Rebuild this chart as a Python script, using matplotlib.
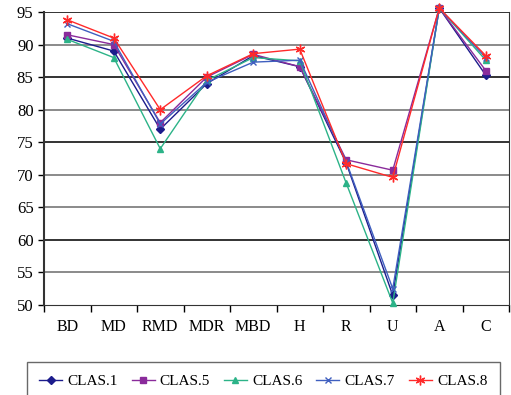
import matplotlib

matplotlib.use("Agg")

import matplotlib.pyplot as plt

plt.rcParams["font.family"] = ["Liberation Serif", "DejaVu Serif"]

categories = ["BD", "MD", "RMD", "MDR", "MBD", "H", "R", "U", "A", "C"]
clas1 = [91.0, 89.0, 77.0, 84.0, 88.3, 86.6, 71.8, 51.5, 95.6, 85.3]
clas5 = [91.5, 90.0, 78.0, 85.0, 88.5, 86.6, 72.3, 70.7, 95.6, 86.0]
clas6 = [90.8, 88.0, 74.0, 84.5, 88.0, 87.5, 68.7, 50.3, 95.6, 87.6]
clas7 = [93.2, 90.5, 77.8, 84.2, 87.3, 87.6, 72.0, 52.5, 95.6, 88.0]
clas8 = [93.8, 91.0, 80.0, 85.2, 88.6, 89.3, 71.7, 69.6, 95.6, 88.3]

series = [
    ("CLAS.1", clas1, "#1c1c8c", "D", 4),
    ("CLAS.5", clas5, "#8a2b9b", "s", 5),
    ("CLAS.6", clas6, "#2cb388", "^", 5),
    ("CLAS.7", clas7, "#3f5fbf", "x", 5),
    ("CLAS.8", clas8, "#ff2a2a", (6, 2, 0), 7),
]

fig = plt.figure(figsize=(5.11, 3.95), dpi=100)
ax = fig.add_axes([44 / 511, 1 - 305 / 395, 465 / 511, 293 / 395])

x = list(range(len(categories)))
for name, vals, color, marker, ms in series:
    ax.plot(x, vals, color=color, marker=marker, markersize=ms, lw=1.0,
            label=name, clip_on=False, zorder=3)

ax.set_ylim(50, 95)
ax.set_xlim(-0.5, len(categories) - 0.5)
ax.set_yticks(range(50, 96, 5))
ax.set_xticks(x)
ax.set_xticklabels(categories)
ax.set_xticks([i + 0.5 for i in range(-1, len(categories))], minor=True)
ax.tick_params(axis="x", which="major", length=0, pad=10, labelsize=11.5)
ax.tick_params(axis="x", which="minor", length=5, direction="out", width=1)
ax.tick_params(axis="y", length=4, direction="out", width=1, labelsize=12)

# lignes de grille alternées noir / gris comme dans l'original
for v in range(55, 96, 5):
    c = "#111111" if v in (95, 85, 75, 60) else "#777777"
    ax.axhline(v, color=c, lw=1.2, zorder=1)

ax.spines["top"].set_visible(False)
ax.spines["left"].set_linewidth(1.5)
ax.spines["left"].set_color("#333333")
ax.spines["bottom"].set_color("#333333")
ax.spines["right"].set_color("#333333")

fig.legend(loc="upper left", bbox_to_anchor=(27 / 511, 1 - 362 / 395),
           ncol=5, frameon=True, fancybox=False, edgecolor="#444444",
           fontsize=11, handlelength=1.5, handletextpad=0.35, columnspacing=0.9,
           borderpad=0.8, borderaxespad=0)

fig.savefig("out.png", dpi=100)
